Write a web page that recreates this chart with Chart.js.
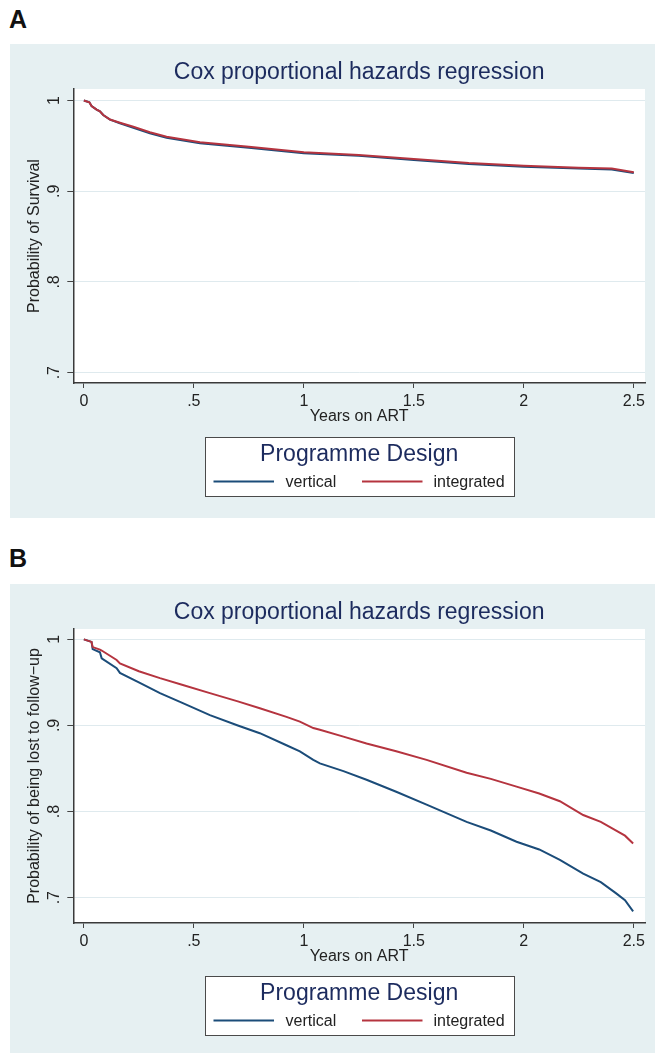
<!DOCTYPE html>
<html><head><meta charset="utf-8">
<script src="https://cdn.jsdelivr.net/npm/chart.js@4.4.1/dist/chart.umd.min.js"></script>
<style>
html,body{margin:0;padding:0;background:#fff;width:655px;height:1053px;overflow:hidden;font-family:"Liberation Sans",Arial,sans-serif;}
.lbl{position:absolute;font-weight:bold;font-size:25px;line-height:1;color:#111;font-family:"Liberation Sans",Arial,sans-serif;}
.panel{position:absolute;left:10px;width:645px;background:#e6f0f2;}
canvas{display:block;}
</style></head><body>
<div class="lbl" style="left:9px;top:7px">A</div>
<div class="panel" style="top:44px;height:474px"><canvas id="cA" width="645" height="474"></canvas></div>
<div class="lbl" style="left:9px;top:546px">B</div>
<div class="panel" style="top:584px;height:469px"><canvas id="cB" width="645" height="469"></canvas></div>
<script>
// ---- data ----
const titleText = 'Cox proportional hazards regression';
const legendTitle = 'Programme Design';
const xAxisTitle = 'Years on ART';
const yTitleA = 'Probability of Survival';
const yTitleB = 'Probability of being lost to follow\u2212up';
const seriesNames = ['vertical', 'integrated'];
const xTickValues = [0, 0.5, 1, 1.5, 2, 2.5];
const xTickLabels = ['0', '.5', '1', '1.5', '2', '2.5'];
const yTickValues = [0.7, 0.8, 0.9, 1];
const yTickLabels = ['.7', '.8', '.9', '1'];

// Panel A: survival
const survYears = [0, 0.025, 0.035, 0.058, 0.073, 0.088, 0.119, 0.164, 0.225, 0.30, 0.376, 0.452, 0.528, 0.75, 1.0, 1.25, 1.5, 1.75, 2.0, 2.25, 2.4, 2.5];
const survIntegrated = [1.0, 0.998, 0.994, 0.990, 0.988, 0.984, 0.979, 0.9755, 0.971, 0.965, 0.960, 0.957, 0.954, 0.949, 0.943, 0.940, 0.9355, 0.931, 0.928, 0.926, 0.925, 0.921];
const survVertical = [1.0, 0.998, 0.994, 0.990, 0.988, 0.984, 0.979, 0.975, 0.970, 0.964, 0.959, 0.956, 0.953, 0.948, 0.942, 0.939, 0.9345, 0.930, 0.927, 0.925, 0.924, 0.920];

// Panel B: loss to follow-up
const ltfuYears = [0, 0.035, 0.04, 0.073, 0.081, 0.149, 0.164, 0.25, 0.346, 0.45, 0.573, 0.7, 0.8, 0.921, 0.982, 1.043, 1.073, 1.18, 1.285, 1.42, 1.558, 1.74, 1.85, 1.967, 2.07, 2.164, 2.27, 2.35, 2.42, 2.46, 2.497];
const ltfuIntegrated = [1.0, 0.997, 0.991, 0.988, 0.987, 0.976, 0.972, 0.963, 0.955, 0.947, 0.9375, 0.928, 0.920, 0.910, 0.9045, 0.897, 0.895, 0.887, 0.879, 0.870, 0.860, 0.845, 0.838, 0.829, 0.821, 0.812, 0.796, 0.788, 0.778, 0.772, 0.763];
const ltfuVertical = [1.0, 0.997, 0.9886, 0.985, 0.978, 0.9665, 0.961, 0.950, 0.9375, 0.926, 0.912, 0.900, 0.891, 0.877, 0.870, 0.860, 0.856, 0.847, 0.837, 0.823, 0.808, 0.788, 0.778, 0.765, 0.756, 0.744, 0.728, 0.718, 0.705, 0.697, 0.684];

// ---- styling ----
const BLUE = '#1b4c79';
const RED = '#b5343f';
const NAVY = '#1c2b5e';
const TXT = '#222';
const FONT = '"Liberation Sans", Arial, sans-serif';
Chart.defaults.font.family = FONT;

const plotBg = {
  id: 'plotBg',
  beforeDraw(chart) {
    const {ctx, chartArea: a} = chart;
    ctx.save(); ctx.fillStyle = '#fff';
    ctx.fillRect(a.left, a.top, a.right - a.left, a.bottom - a.top);
    ctx.restore();
  }
};

const yLabels = {
  id: 'yLabels',
  afterDraw(chart) {
    const {ctx} = chart; const ys = chart.scales.y;
    ctx.save();
    ctx.fillStyle = TXT; ctx.font = '16px ' + FONT;
    ctx.textAlign = 'center'; ctx.textBaseline = 'alphabetic';
    yTickValues.forEach((v, i) => {
      const py = ys.getPixelForValue(v);
      ctx.save(); ctx.translate(ys.right - 14.5, py); ctx.rotate(-Math.PI / 2);
      ctx.fillText(yTickLabels[i], 0, 0); ctx.restore();
    });
    ctx.restore();
  }
};

const boxLegend = {
  id: 'boxLegend',
  afterDraw(chart, args, opts) {
    const {ctx, chartArea: a} = chart;
    const cx = (a.left + a.right) / 2;
    const bw = 309, bh = 59;
    const bx = Math.round(cx - bw / 2) + 0.5, by = Math.round(a.bottom + opts.offset) + 0.5;
    ctx.save();
    ctx.fillStyle = '#fff'; ctx.fillRect(bx, by, bw, bh);
    ctx.strokeStyle = '#4a4a4a'; ctx.lineWidth = 1; ctx.strokeRect(bx, by, bw, bh);
    ctx.fillStyle = NAVY; ctx.font = '23px ' + FONT; ctx.textAlign = 'center'; ctx.textBaseline = 'middle';
    ctx.fillText(legendTitle, cx, by + 17.5);
    const items = [[0, 8, 68.5, 80], [1, 156.5, 217, 228]];
    const ds = chart.data.datasets;
    items.forEach(([di, l0, l1, tx]) => {
      const iy = by + 44;
      ctx.strokeStyle = ds[di].borderColor; ctx.lineWidth = 2;
      ctx.beginPath(); ctx.moveTo(bx + l0, iy); ctx.lineTo(bx + l1, iy); ctx.stroke();
      ctx.fillStyle = TXT; ctx.font = '16px ' + FONT; ctx.textAlign = 'left'; ctx.textBaseline = 'middle';
      ctx.fillText(ds[di].label, bx + tx, iy + 1);
    });
    ctx.restore();
  }
};

function toPts(xs, ys) { return xs.map((x, i) => ({x: x, y: ys[i]})); }

function makeChart(id, xs, vert, integ, yMin, yMax, yTitle, padBottom, legOffset) {
  return new Chart(document.getElementById(id), {
    type: 'line',
    data: {
      datasets: [
        {label: seriesNames[0], data: toPts(xs, vert), borderColor: BLUE, borderWidth: 2, pointRadius: 0, tension: 0, order: 1},
        {label: seriesNames[1], data: toPts(xs, integ), borderColor: RED, borderWidth: 2, pointRadius: 0, tension: 0, order: 0}
      ]
    },
    options: {
      responsive: false, animation: false, events: [],
      layout: {padding: {left: 0, right: 10, top: 0, bottom: padBottom}},
      plugins: {
        legend: {display: false}, tooltip: {enabled: false},
        title: {display: true, text: titleText, fullSize: false, color: NAVY,
                font: {size: 23, weight: 'normal'}, padding: {top: 15.2, bottom: 2.2}},
        boxLegend: {offset: legOffset}
      },
      scales: {
        x: {
          type: 'linear', min: -0.048, max: 2.551,
          afterBuildTicks: s => { s.ticks = xTickValues.map(v => ({value: v})); },
          afterFit: s => { s.height = 43.6; },
          ticks: {callback: v => xTickLabels[xTickValues.indexOf(v)], font: {size: 16}, color: TXT, padding: 3.5, maxRotation: 0, minRotation: 0, autoSkip: false},
          grid: {drawOnChartArea: false, drawTicks: true, tickLength: 5, tickColor: '#444', color: '#444'},
          border: {display: true, color: '#3a3a3a', width: 1.5},
          title: {display: true, text: xAxisTitle, font: {size: 16}, color: TXT, padding: 0}
        },
        y: {
          type: 'linear', min: yMin, max: yMax,
          afterBuildTicks: s => { s.ticks = yTickValues.map(v => ({value: v})); },
          afterFit: s => { s.width = 63.3; },
          ticks: {display: false},
          grid: {color: '#dfeaee', lineWidth: 1, drawTicks: true, tickLength: 6, tickColor: '#444'},
          border: {display: true, color: '#3a3a3a', width: 1.5},
          title: {display: true, text: yTitle, font: {size: 16}, color: TXT, padding: {top: 15.4, bottom: 0}}
        }
      }
    },
    plugins: [plotBg, yLabels, boxLegend]
  });
}

makeChart('cA', survYears, survVertical, survIntegrated, 0.6886, 1.0127, yTitleA, 474 - 339 - 43.6, 54);
makeChart('cB', ltfuYears, ltfuVertical, ltfuIntegrated, 0.6706, 1.012, yTitleB, 469 - 339 - 43.6, 53);
</script>
</body></html>
